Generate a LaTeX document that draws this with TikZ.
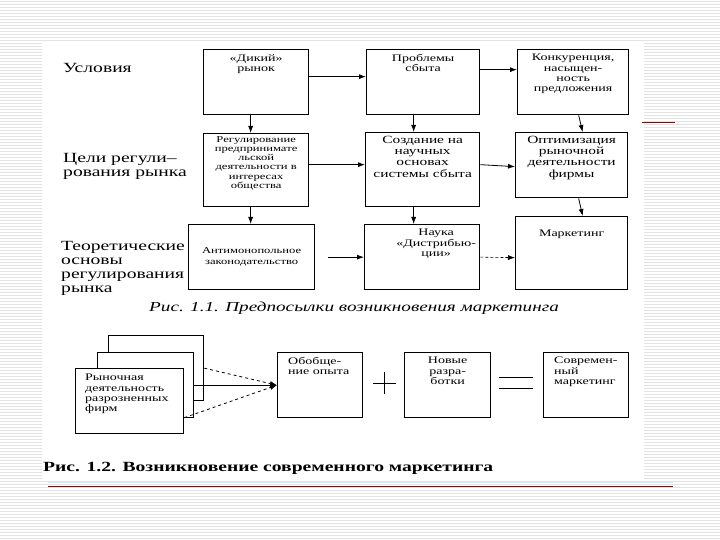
\documentclass[tikz,border=0pt]{standalone}
\usepackage{fontspec}
\setmainfont{Liberation Serif}
\newfontfamily\widefont[FakeStretch=1.4]{Liberation Serif}
\usetikzlibrary{positioning,calc,arrows.meta}

\begin{document}
\begin{tikzpicture}[x=1pt, y=-1pt, >={Latex[length=7pt,width=5pt]},
  cellbox/.style={draw, line width=1.3pt, inner sep=0pt, fill=white, anchor=north west},
  celltext/.style={inner sep=0pt, align=center, font=\widefont\fontsize{10}{10.4}\selectfont},
  rowlabel/.style={anchor=base west, inner sep=0pt, align=left, font=\widefont\fontsize{14}{14}\selectfont},
  link/.style={->, line width=0.8pt},
  stripe/.style={gray!22, line width=0.8pt}]
\useasboundingbox (0,0) rectangle (720,540);
% slide background
\fill[white] (0,0) rectangle (720,540);
\foreach \y in {1.5,4.5,...,540} \draw[stripe] (0,\y) -- (720,\y);
\fill[white] (42,42) rectangle (644,480);
\draw[red!60!black, line width=1pt] (642,123) -- (675,123);
\draw[cyan!20, line width=0.8pt] (48,482) -- (673,482);
\draw[red!60!black, line width=1pt] (48,486) -- (673,486);

% row labels (base = last line)
\node[rowlabel] (lab1) at (63,73) {Условия};
\node[rowlabel] (lab2) at (63,177) {Цели регули–\\рования рынка};
\node[rowlabel] (lab3) at (61,292) {Теоретические\\основы\\регулирования\\рынка};

% fig 1.1
\node[cellbox, minimum width=105pt, minimum height=65pt] (b1) at (203,49) {};
\node[cellbox, minimum width=113pt, minimum height=65pt] (b2) at (366,49) {};
\node[cellbox, minimum width=111pt, minimum height=65pt] (b3) at (517,49) {};
\node[cellbox, minimum width=105pt, minimum height=73pt] (c1) at (203,133) {};
\node[cellbox, minimum width=114pt, minimum height=74pt] (c2) at (365,132) {};
\node[cellbox, minimum width=112pt, minimum height=65pt] (c3) at (515,132) {};
\node[cellbox, minimum width=126pt, minimum height=65pt] (d1) at (188,224) {};
\node[cellbox, minimum width=115pt, minimum height=65pt] (d2) at (364,224) {};
\node[cellbox, minimum width=112pt, minimum height=73pt] (d3) at (515,216) {};

\node[celltext, below=5pt of b1.north] (tb1) {«Дикий»\\рынок};
\node[celltext, below=5pt of b2.north] (tb2) {Проблемы\\сбыта};
\node[celltext, below=5pt of b3.north] (tb3) {Конкуренция,\\насыщен-\\ность\\предложения};
\node[celltext, below=3pt of c1.north, font=\widefont\fontsize{9}{9.3}\selectfont] (tc1) {Регулирование\\предпринимате\\льской\\деятельности в\\интересах\\общества};
\node[celltext, below=4pt of c2.north, font=\widefont\fontsize{11}{11.2}\selectfont] (tc2) {Создание на\\научных\\основах\\системы сбыта};
\node[celltext, below=4pt of c3.north, font=\widefont\fontsize{11}{11.2}\selectfont] (tc3) {Оптимизация\\рыночной\\деятельности\\фирмы};
\node[celltext, font=\widefont\fontsize{9}{11}\selectfont] (td1) at (d1) {Антимонопольное\\законодательство};
\node[celltext, below=5pt of d2.north, xshift=14pt] (td2) {Наука\\«Дистрибью-\\ции»};
\node[celltext, below=14pt of d3.north] (td3) {Маркетинг};

\draw[link] ([yshift=5.5pt]b1.east) -- ([yshift=5.5pt]b2.west);
\draw[link] ([yshift=12.5pt]b2.east) -- ([yshift=12.5pt]b3.west);
\draw[link] ([xshift=-5.5pt]b1.south) -- ([xshift=-5.5pt]c1.north);
\draw[link] ([xshift=-9.5pt]b2.south) -- ([xshift=-9pt]c2.north);
\draw[link] ([xshift=5.5pt]b3.south) -- ([xshift=11pt]c3.north);
\draw[link] ([yshift=5.5pt]c1.east) -- ([yshift=5pt]c2.west);
\draw[link] ([yshift=5pt]c2.east) -- ([yshift=-1.5pt]c3.west);
\draw[link] ([xshift=-5.5pt]c1.south) -- ([xshift=-1pt]d1.north);
\draw[link] ([xshift=-9pt]c2.south) -- ([xshift=-8.5pt]d2.north);
\draw[link] ([xshift=7pt]c3.south) -- ([xshift=11pt]d3.north);
\draw[link] ([xshift=13pt]d1.east) -- (d2.west);
\draw[link, line width=0.6pt, densely dashed] (d2.east) -- ([yshift=-4.5pt]d3.west);

\node[anchor=base west, inner sep=0pt, font=\widefont\itshape\fontsize{13.7}{14}\selectfont] (cap1) at (149,311) {Рис. 1.1. Предпосылки возникновения маркетинга};

% fig 1.2
\node[cellbox, minimum width=95pt, minimum height=65pt] (fb) at (108,335) {};
\node[cellbox, minimum width=96pt, minimum height=65pt] (fm) at (97,352) {};
\node[cellbox, minimum width=108pt, minimum height=65pt] (ff) at (75,368) {};
\node[cellbox, minimum width=85pt, minimum height=65pt] (op) at (277,352) {};
\node[cellbox, minimum width=86pt, minimum height=65pt] (nw) at (404,352) {};
\node[cellbox, minimum width=85pt, minimum height=65pt] (mk) at (543,352) {};

\node[celltext, align=left, below right=6pt and 10pt of ff.north west] (tff) {Рыночная\\деятельность\\разрозненных\\фирм};
\node[celltext, align=left, below right=5pt and 11pt of op.north west] (top) {Обобще-\\ние опыта};
\node[celltext, below=5pt of nw.north] (tnw) {Новые\\разра-\\ботки};
\node[celltext, align=left, below right=5pt and 11pt of mk.north west] (tmk) {Современ-\\ный\\маркетинг};

\draw[link, dashed] (fb.east) -- (op.west);
\draw[link] (fm.east) -- (op.west);
\draw[link, dashed] ([yshift=-16.5pt]ff.east) -- (op.west);

\draw[line width=0.6pt] (373,383) -- (396,383) (384.5,372) -- (384.5,394);
\draw[line width=0.6pt] (499,377) -- (533,377) (499,388) -- (533,388);

\node[anchor=base west, inner sep=0pt, font=\widefont\bfseries\fontsize{14}{14}\selectfont] (cap2) at (43,471) {Рис. 1.2. Возникновение современного маркетинга};
\end{tikzpicture}
\end{document}
